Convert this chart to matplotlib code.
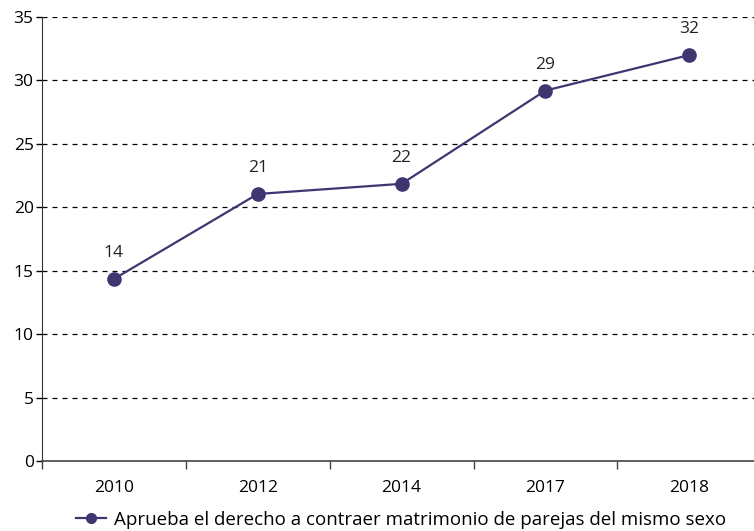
import matplotlib.pyplot as plt
from matplotlib.lines import Line2D

# Data
years = ['2010', '2012', '2014', '2017', '2018']
values = [14.35, 21.05, 21.85, 29.2, 32.0]
labels = ['14', '21', '22', '29', '32']
series_name = 'Aprueba el derecho a contraer matrimonio de parejas del mismo sexo'

color = '#3d3670'
plt.rcParams['font.family'] = ['Open Sans', 'DejaVu Sans']

fig = plt.figure(figsize=(7.54, 5.31), dpi=100)
ax = fig.add_axes([0.0557, 0.1318, 0.9443, 0.8362])

x = list(range(len(years)))
ax.plot(x, values, color=color, linewidth=1.6, marker='o', markersize=9.5,
        zorder=3, clip_on=False)

for xi, v, lab in zip(x, values, labels):
    ax.annotate(lab, (xi, v), xytext=(0, 13), textcoords='offset points',
                ha='center', va='bottom', fontsize=12.5, color='#222222')

# Axes
ax.set_ylim(0, 35)
ax.set_yticks(range(0, 36, 5))
ax.set_xlim(-0.5, 4.45)
ax.set_xticks(x)
ax.set_xticklabels(years, fontsize=12.5)
ax.set_xticks([i + 0.5 for i in range(-1, 4)], minor=True)
ax.tick_params(axis='x', which='major', length=0, pad=14)
ax.tick_params(axis='x', which='minor', length=6, width=1, color='#444444')
ax.tick_params(axis='y', length=4, width=1, labelsize=12.5, pad=2)

for yv in range(5, 36, 5):
    ax.axhline(yv, color='black', linestyle=(0, (4, 4)), linewidth=0.9, zorder=1)

for s in ['top', 'right']:
    ax.spines[s].set_visible(False)
ax.spines['left'].set_color('#333333')
ax.spines['bottom'].set_color('#444444')
ax.spines['bottom'].set_linewidth(1.2)

handle = Line2D([0], [0], color=color, linewidth=1.6, marker='o', markersize=7)
fig.legend([handle], [series_name], loc='lower center', bbox_to_anchor=(0.532, -0.028),
           frameon=False, fontsize=13.5, handlelength=1.6, handletextpad=0.4)

fig.savefig('out.png', dpi=100)
